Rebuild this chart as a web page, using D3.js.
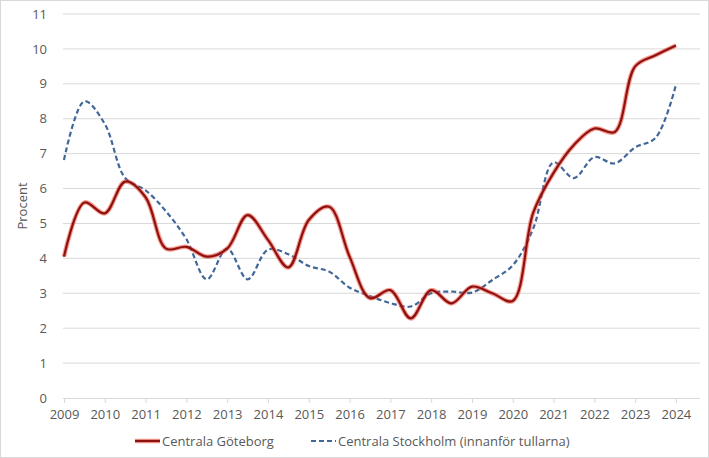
<!DOCTYPE html>
<html><head><meta charset="utf-8">
<script src="https://cdn.jsdelivr.net/npm/d3@7"></script>
<style>body{margin:0;background:#fff}svg{display:block;font-family:"Open Sans",sans-serif}</style>
</head><body><svg id="c" width="709" height="458"></svg>
<script>
const periods = [2009,2009.5,2010,2010.5,2011,2011.5,2012,2012.5,2013,2013.5,2014,2014.5,2015,2015.5,2016,2016.5,2017,2017.5,2018,2018.5,2019,2019.5,2020,2020.5,2021,2021.5,2022,2022.5,2023,2023.5,2024];
const goteborg = [4.05,5.6,5.29,6.2,5.75,4.28,4.33,4.05,4.28,5.24,4.53,3.74,5.1,5.48,4.05,2.86,3.09,2.28,3.09,2.71,3.19,3.0,2.78,5.3,6.45,7.25,7.72,7.62,9.5,9.82,10.1];
const stockholm = [6.82,8.5,7.85,6.3,5.95,5.35,4.55,3.4,4.28,3.4,4.25,4.12,3.78,3.62,3.16,2.92,2.72,2.62,3.0,3.05,3.02,3.38,3.8,4.85,6.75,6.3,6.9,6.72,7.18,7.45,8.97];
const yearTicks = d3.range(2009, 2025);
const yTicks = d3.range(0, 12);
const seriesNames = ["Centrala Göteborg", "Centrala Stockholm (innanför tullarna)"];

const svg = d3.select("#c");
svg.append("rect").attr("x",0.5).attr("y",0.5).attr("width",708).attr("height",457).attr("fill","#fff").attr("stroke","#d9d9d9");

const x = d3.scaleLinear().domain([2009, 2024.59]).range([64, 700]);
const y = d3.scaleLinear().domain([0, 11]).range([398, 14]);

// gridlines
svg.append("g").selectAll("line").data(yTicks.filter(d=>d>0)).join("line")
  .attr("x1",63).attr("x2",700).attr("y1",d=>y(d)).attr("y2",d=>y(d))
  .attr("stroke","#d9d9d9").attr("stroke-width",1);

// y axis labels
const ya = svg.append("g").attr("transform","translate(63,0)")
  .call(d3.axisLeft(y).tickValues(yTicks).tickSize(0).tickPadding(16));
ya.select(".domain").remove();
ya.selectAll("text").attr("font-size",13).attr("fill","#595959").attr("font-family","Open Sans");

// x axis
const xa = svg.append("g").attr("transform","translate(0,398)")
  .call(d3.axisBottom(x).tickValues(yearTicks).tickFormat(d3.format("d")).tickSize(5).tickPadding(7).tickSizeOuter(0));
xa.select(".domain").attr("stroke","#d9d9d9").attr("d","M63,0.5H700");
xa.selectAll(".tick line").attr("stroke","#d9d9d9");
xa.selectAll("text").attr("font-size",13).attr("fill","#595959").attr("font-family","Open Sans");

svg.append("text").attr("transform","translate(27,206) rotate(-90)").attr("text-anchor","middle")
  .attr("font-size",13).attr("fill","#595959").text("Procent");

const line = d3.line().x(d=>x(d[0])).y(d=>y(d[1])).curve(d3.curveCatmullRom.alpha(0.5));
const gData = periods.map((p,i)=>[p,goteborg[i]]);
const sData = periods.map((p,i)=>[p,stockholm[i]]);

svg.append("path").attr("d",line(sData)).attr("fill","none").attr("stroke","#41679a").attr("stroke-width",2.2).attr("stroke-dasharray","5,3");
svg.append("path").attr("d",line(gData)).attr("fill","none").attr("stroke","#f04a35").attr("stroke-opacity",0.55).attr("stroke-width",4.5).attr("stroke-linejoin","round");
svg.append("path").attr("d",line(gData)).attr("fill","none").attr("stroke","#8e1111").attr("stroke-width",2.2).attr("stroke-linejoin","round");

// legend
const lg = svg.append("g");
lg.append("line").attr("x1",135).attr("x2",160).attr("y1",441).attr("y2",441).attr("stroke","#f04a35").attr("stroke-opacity",0.55).attr("stroke-width",4.5);
lg.append("line").attr("x1",135).attr("x2",160).attr("y1",441).attr("y2",441).attr("stroke","#8e1111").attr("stroke-width",2.2);
lg.append("text").attr("x",162).attr("y",446).attr("font-size",13).attr("fill","#595959").text(seriesNames[0]);
lg.append("line").attr("x1",311).attr("x2",336).attr("y1",441).attr("y2",441).attr("stroke","#41679a").attr("stroke-width",2.2).attr("stroke-dasharray","5,3");
lg.append("text").attr("x",338).attr("y",446).attr("font-size",13).attr("fill","#595959").text(seriesNames[1]);
</script></body></html>
